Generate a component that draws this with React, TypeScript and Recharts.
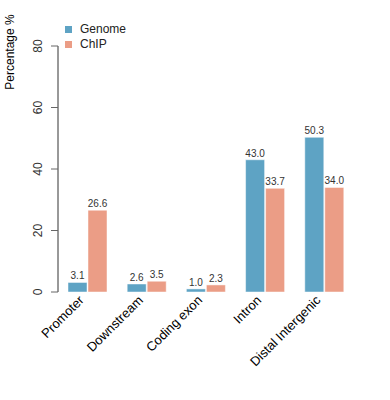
import React from 'react';
import { BarChart, Bar, XAxis, YAxis, Legend, LabelList } from 'recharts';

const CATEGORIES = ['Promoter', 'Downstream', 'Coding exon', 'Intron', 'Distal Intergenic'];
const GENOME = [3.1, 2.6, 1.0, 43.0, 50.3];
const CHIP = [26.6, 3.5, 2.3, 33.7, 34.0];
const Y_TICKS = [0, 20, 40, 60, 80];
const SERIES = ['Genome', 'ChIP'];

const data = CATEGORIES.map((name, i) => ({ name, Genome: GENOME[i], ChIP: CHIP[i] }));

const FONT = '"Liberation Sans", Arial, sans-serif';
const COLORS: Record<string, string> = { Genome: '#5ea3c4', ChIP: '#eb9d86' };

const XTick = (props: any) => {
  const { x, y, payload } = props;
  const tx = x - 3;
  const ty = y + 1;
  return (
    <text
      x={tx}
      y={ty}
      transform={`rotate(-45, ${tx}, ${ty})`}
      textAnchor="end"
      fontSize={13}
      fontFamily={FONT}
      fill="#000"
    >
      {payload.value}
    </text>
  );
};

const YTick = (props: any) => {
  const { y, payload } = props;
  const tx = 42;
  return (
    <text
      x={tx}
      y={y}
      transform={`rotate(-90, ${tx}, ${y})`}
      textAnchor="middle"
      fontSize={12}
      fontFamily={FONT}
      fill="#333"
    >
      {payload.value}
    </text>
  );
};

const LegendBox = () => (
  <div style={{ fontFamily: FONT, fontSize: 12, lineHeight: '15px', color: '#222' }}>
    {SERIES.map((s) => (
      <div key={s} style={{ display: 'flex', alignItems: 'center' }}>
        <span style={{ width: 7, height: 7, background: COLORS[s], display: 'inline-block', marginRight: 8 }} />
        {s}
      </div>
    ))}
  </div>
);

const fmt = (v: any) => Number(v).toFixed(1);

export default function App() {
  return (
    <div style={{ position: 'absolute', left: 0, top: 0, background: '#fff' }}>
      <BarChart
        width={390}
        height={400}
        data={data}
        margin={{ top: 46, right: 36, bottom: 78, left: 0 }}
        barSize={19}
        barGap={1}
      >
        <XAxis
          dataKey="name"
          height={30}
          axisLine={false}
          tickLine={false}
          interval={0}
          tick={<XTick />}
        />
        <YAxis
          domain={[0, 80]}
          ticks={Y_TICKS}
          width={58}
          axisLine={{ stroke: '#333' }}
          tickLine={{ stroke: '#666' }}
          tickSize={7}
          tick={<YTick />}
          label={{
            content: () => (
              <text
                x={14}
                y={52}
                transform="rotate(-90, 14, 52)"
                textAnchor="middle"
                fontSize={12}
                fontFamily={FONT}
                fill="#000"
              >
                Percentage %
              </text>
            ),
          }}
        />
        <Legend
          layout="horizontal"
          align="center"
          verticalAlign="middle"
          content={<LegendBox />}
          wrapperStyle={{ position: 'absolute', left: 65, top: 22, width: 'auto' }}
        />
        <Bar dataKey="Genome" fill={COLORS.Genome} stroke="#fff" strokeOpacity={0.6} strokeWidth={0.8} isAnimationActive={false}>
          <LabelList dataKey="Genome" position="top" offset={3} formatter={fmt} fontSize={10} fill="#333" fontFamily={FONT} />
        </Bar>
        <Bar dataKey="ChIP" fill={COLORS.ChIP} stroke="#fff" strokeOpacity={0.6} strokeWidth={0.8} isAnimationActive={false}>
          <LabelList dataKey="ChIP" position="top" offset={3} formatter={fmt} fontSize={10} fill="#333" fontFamily={FONT} />
        </Bar>
      </BarChart>
    </div>
  );
}
